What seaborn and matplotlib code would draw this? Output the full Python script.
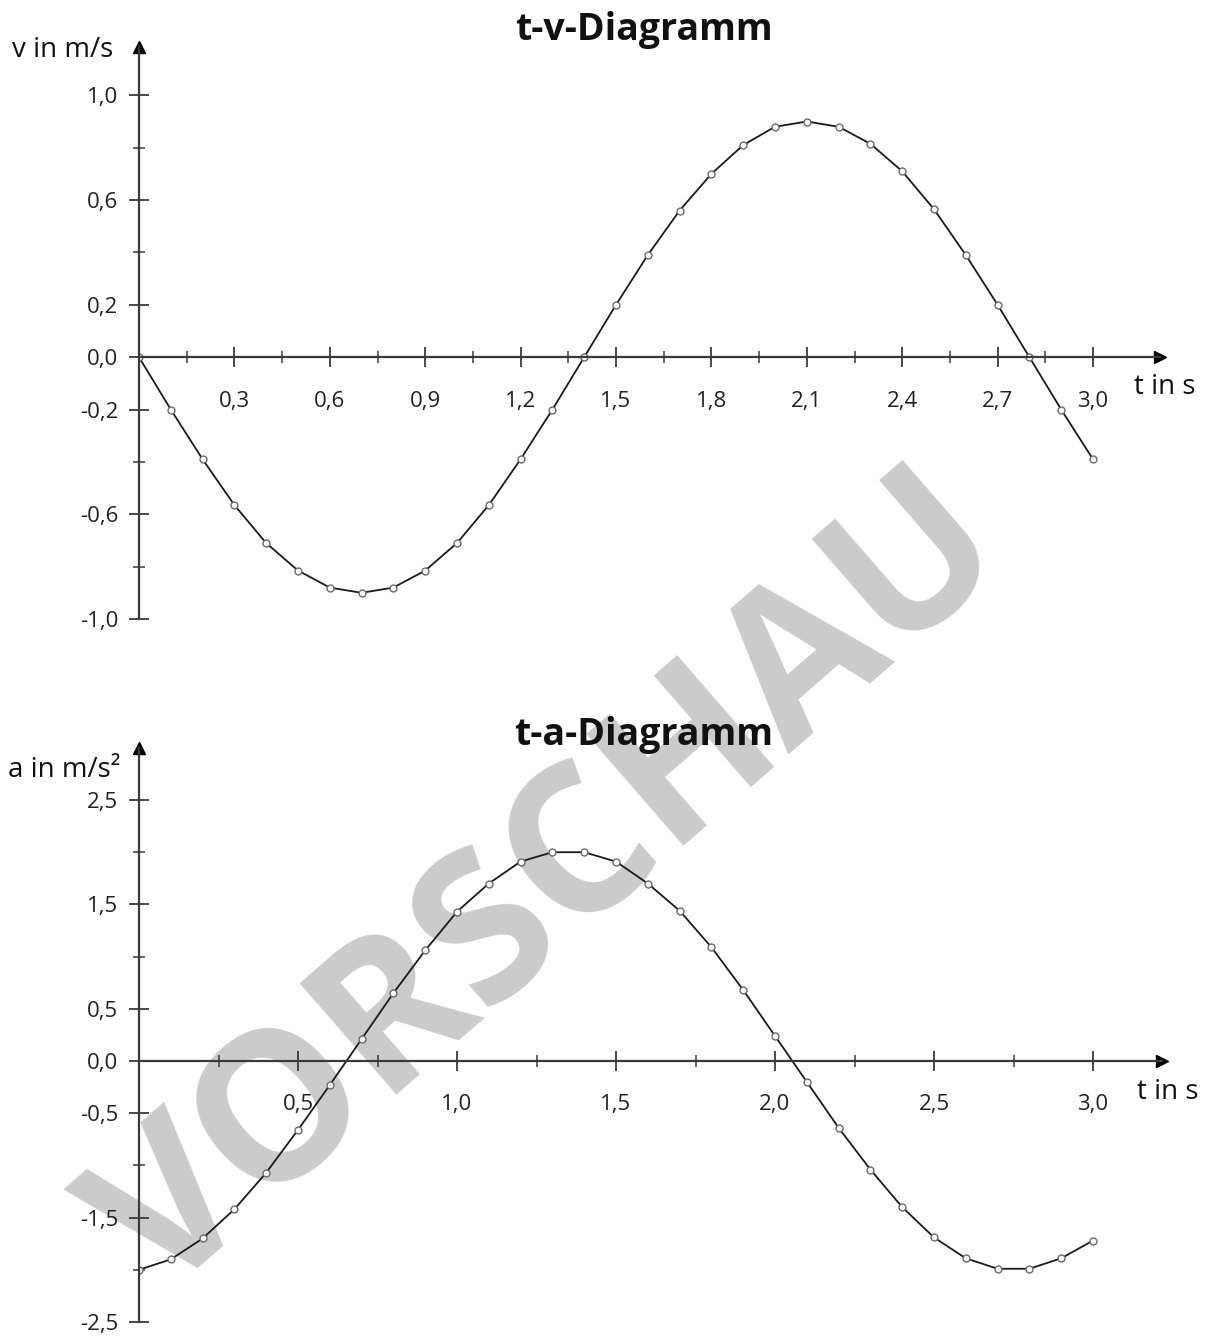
import numpy as np
import pandas as pd
import matplotlib
matplotlib.use("Agg")
import matplotlib.pyplot as plt
import seaborn as sns
from matplotlib.ticker import FixedLocator, FixedFormatter

# ---------------- data ----------------
t_values = [0.0, 0.1, 0.2, 0.3, 0.4, 0.5, 0.6, 0.7, 0.8, 0.9, 1.0,
            1.1, 1.2, 1.3, 1.4, 1.5, 1.6, 1.7, 1.8, 1.9, 2.0,
            2.1, 2.2, 2.3, 2.4, 2.5, 2.6, 2.7, 2.8, 2.9, 3.0]

v_values = [0.0, -0.20, -0.39, -0.565, -0.71, -0.815, -0.88, -0.90, -0.88, -0.815, -0.71,
            -0.565, -0.39, -0.20, 0.0, 0.20, 0.39, 0.56, 0.70, 0.81, 0.88,
            0.90, 0.88, 0.815, 0.71, 0.565, 0.39, 0.20, 0.0, -0.20, -0.39]

a_values = [-2.00, -1.90, -1.70, -1.42, -1.07, -0.66, -0.23, 0.21, 0.65, 1.06, 1.43,
            1.70, 1.91, 2.00, 2.00, 1.91, 1.70, 1.44, 1.09, 0.68, 0.24,
            -0.20, -0.64, -1.04, -1.40, -1.69, -1.89, -1.99, -1.99, -1.89, -1.72]

v_major_ticks = [-1.0, -0.6, -0.2, 0.0, 0.2, 0.6, 1.0]
v_major_labels = ["-1,0", "-0,6", "-0,2", "0,0", "0,2", "0,6", "1,0"]
v_minor_ticks = [-0.8, -0.4, 0.4, 0.8]
tv_x_major = [0.3, 0.6, 0.9, 1.2, 1.5, 1.8, 2.1, 2.4, 2.7, 3.0]
tv_x_labels = ["0,3", "0,6", "0,9", "1,2", "1,5", "1,8", "2,1", "2,4", "2,7", "3,0"]
tv_x_minor = [0.15, 0.45, 0.75, 1.05, 1.35, 1.65, 1.95, 2.25, 2.55, 2.85]

a_major_ticks = [-2.5, -1.5, -0.5, 0.0, 0.5, 1.5, 2.5]
a_major_labels = ["-2,5", "-1,5", "-0,5", "0,0", "0,5", "1,5", "2,5"]
a_minor_ticks = [-2.0, -1.0, 1.0, 2.0]
ta_x_major = [0.5, 1.0, 1.5, 2.0, 2.5, 3.0]
ta_x_labels = ["0,5", "1,0", "1,5", "2,0", "2,5", "3,0"]
ta_x_minor = [0.25, 0.75, 1.25, 1.75, 2.25, 2.75]

df_v = pd.DataFrame({"t": t_values, "v": v_values})
df_a = pd.DataFrame({"t": t_values, "a": a_values})

# ---------------- style ----------------
sns.set_style("white")
plt.rcParams["font.family"] = ["Open Sans", "DejaVu Sans"]

W, H = 1207, 1340
fig = plt.figure(figsize=(W / 100, H / 100), dpi=100)

AX_COL = "#3a3a3a"


def px_axes(left, right, top, bottom):
    return fig.add_axes([left / W, (H - bottom) / H, (right - left) / W, (bottom - top) / H])


def style_axes(ax, xmaj, xlab, xmin, ymaj, ylab, ymin):
    ax.set_facecolor("none")
    for s in ("top", "right"):
        ax.spines[s].set_visible(False)
    ax.spines["left"].set_position(("data", 0))
    ax.spines["bottom"].set_position(("data", 0))
    for s in ("left", "bottom"):
        ax.spines[s].set_color(AX_COL)
        ax.spines[s].set_linewidth(1.6)
    ax.xaxis.set_major_locator(FixedLocator(xmaj))
    ax.xaxis.set_major_formatter(FixedFormatter(xlab))
    ax.xaxis.set_minor_locator(FixedLocator(xmin))
    ax.yaxis.set_major_locator(FixedLocator(ymaj))
    ax.yaxis.set_major_formatter(FixedFormatter(ylab))
    ax.yaxis.set_minor_locator(FixedLocator(ymin))
    ax.tick_params(axis="both", which="both", bottom=True, left=True, top=False, right=False)
    ax.tick_params(axis="both", which="major", direction="inout", length=14,
                   width=1.3, color=AX_COL, labelsize=16, labelcolor="#222222")
    ax.tick_params(axis="both", which="minor", direction="inout", length=8,
                   width=1.1, color=AX_COL)
    ax.tick_params(axis="x", which="major", pad=17)
    ax.tick_params(axis="y", which="major", pad=8)
    ax.set_xlabel("")
    ax.set_ylabel("")
    # arrow heads
    ax.plot(1, 0, ">", color="black", ms=9, transform=ax.get_yaxis_transform(), clip_on=False)
    ax.plot(0, 1, "^", color="black", ms=9, transform=ax.get_xaxis_transform(), clip_on=False)


line_kw = dict(color="#1a1a1a", linewidth=1.3, marker="o", markersize=5,
               markerfacecolor="white", markeredgecolor="#6a6a6a", markeredgewidth=1.0)

# ---- top: t-v ----
ax1 = px_axes(139, 1160, 47, 619)
sns.lineplot(data=df_v, x="t", y="v", ax=ax1, **line_kw)
ax1.set_xlim(0, (1160 - 139) / 318.0)
ax1.set_ylim(-1.0, (355 - 47) / 260.0)
style_axes(ax1, tv_x_major, tv_x_labels, tv_x_minor, v_major_ticks, v_major_labels, v_minor_ticks)
fig.text(12 / W, 1 - 50 / H, "v in m/s", fontsize=20, color="#111111", va="center", ha="left")
fig.text(1134 / W, 1 - 387 / H, "t in s", fontsize=20, color="#111111", va="center", ha="left")
fig.text(644 / W, 1 - 30 / H, "t-v-Diagramm", fontsize=27, fontweight="bold",
         color="#111111", va="center", ha="center")

# ---- bottom: t-a ----
ax2 = px_axes(139, 1162, 748, 1322)
sns.lineplot(data=df_a, x="t", y="a", ax=ax2, **line_kw)
ax2.set_xlim(0, (1162 - 139) / 318.0)
ax2.set_ylim(-2.5, 2.5 + (800 - 748) / 104.4)
style_axes(ax2, ta_x_major, ta_x_labels, ta_x_minor, a_major_ticks, a_major_labels, a_minor_ticks)
fig.text(8 / W, 1 - 770 / H, "a in m/s²", fontsize=20, color="#111111", va="center", ha="left")
fig.text(1137 / W, 1 - 1092 / H, "t in s", fontsize=20, color="#111111", va="center", ha="left")
fig.text(644 / W, 1 - 735 / H, "t-a-Diagramm", fontsize=27, fontweight="bold",
         color="#111111", va="center", ha="center")

# ---- watermark ----
fig.text(552 / W, 1 - 890 / H, "VORSCHAU", fontsize=148, fontweight="bold",
         color="#cbcbcb", rotation=41, ha="center", va="center", zorder=-1)

fig.savefig("out.png", dpi=100)
